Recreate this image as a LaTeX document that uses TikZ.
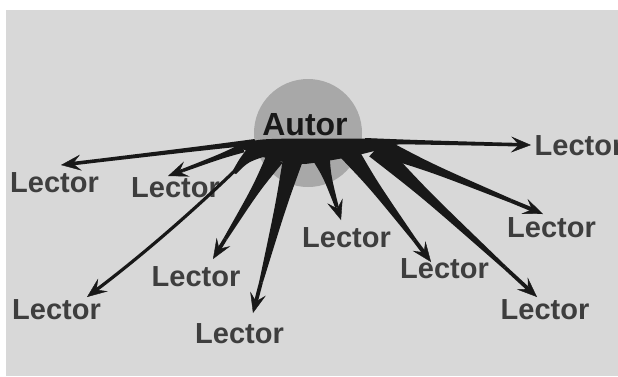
\documentclass[tikz,border=0pt]{standalone}
\usepackage{fontspec}
\setmainfont{Liberation Sans}
\usetikzlibrary{calc,arrows.meta}
\definecolor{bgc}{RGB}{216,216,216}
\definecolor{circc}{RGB}{168,168,168}
\definecolor{ink}{RGB}{24,24,24}
\definecolor{labc}{RGB}{62,62,62}
\tikzset{
  arrowtip/.style={-{Stealth[length=20pt,width=16pt,inset=8pt,line width=0.4pt]}},
  lectorlab/.style={text=labc, font=\bfseries\fontsize{29}{30}\selectfont, inner sep=0pt, anchor=base west},
  autorlab/.style={text=ink, font=\bfseries\fontsize{32}{34}\selectfont, inner sep=0pt, anchor=base},
}
\newcommand\spoke[6]{%
  \coordinate (sm) at ($(#1)!0.3!(#2)$);
  \coordinate (se) at ($(#1)!0.8!(#2)$);
  \fill[ink] ($(#1)!#3!90:(#2)$) .. controls ($(sm)!#4!90:(#2)$) .. ($(se)!#5!90:(#2)$)
     -- ($(se)!#5!-90:(#2)$) .. controls ($(sm)!#4!-90:(#2)$) .. ($(#1)!#3!-90:(#2)$) -- cycle;
  \draw[ink, line width=#6, arrowtip] (se) -- (#2);
}
\begin{document}
\begin{tikzpicture}[x=1pt,y=-1pt]
\useasboundingbox (0,0) rectangle (618,376);
\clip (0,0) rectangle (618,376);
\fill[white] (0,0) rectangle (618,376);
\fill[bgc] (6,10) rectangle (618,376);
% author
\node[circle, fill=circc, minimum size=108pt, inner sep=0pt] (autor) at (308,133) {};
\node[autorlab] (autortxt) at (305,135) {Autor};
% readers
\node[lectorlab] (L1) at (10,192) {Lector};
\node[lectorlab] (L2) at (131,197) {Lector};
\node[lectorlab] (L3) at (534.5,155) {Lector};
\node[lectorlab] (L4) at (507,237) {Lector};
\node[lectorlab] (L5) at (302,247) {Lector};
\node[lectorlab] (L6) at (151.5,286) {Lector};
\node[lectorlab] (L7) at (400,278) {Lector};
\node[lectorlab] (L8) at (12,319) {Lector};
\node[lectorlab] (L9) at (195,343) {Lector};
\node[lectorlab] (L10) at (500.5,319) {Lector};
% spoke bases and tips
\coordinate (b1) at (255,142);  \coordinate (t1) at (61,165);
\coordinate (b2) at (243,148);  \coordinate (t2) at (168,176);
\coordinate (b3) at (365,141);  \coordinate (t3) at (531,145);
\coordinate (b4) at (383,148);  \coordinate (t4) at (543,214);
\coordinate (b5) at (321,157);  \coordinate (t5) at (341,220);
\coordinate (b6) at (275,158);  \coordinate (t6) at (213,259);
\coordinate (b7) at (348,151);  \coordinate (t7) at (431,262);
\coordinate (b8) at (255,151);  \coordinate (t8) at (87,297);
\coordinate (b9) at (293,159);  \coordinate (t9) at (253,313);
\coordinate (b10) at (376,149); \coordinate (t10) at (537,297);
% hub
\fill[ink] (238,147) .. controls (255,139) .. (300,138.5) -- (355,138.5)
   .. controls (385,139) .. (402,143) .. controls (374,152) and (340,160) .. (305,164)
   .. controls (275,163) and (255,155) .. (238,147) -- cycle;
% spokes
\spoke{b1}{t1}{3pt}{2.2pt}{1.8pt}{3.6pt}
\spoke{b2}{t2}{4.5pt}{2.4pt}{1.7pt}{3.4pt}
\spoke{b3}{t3}{3pt}{2.2pt}{1.8pt}{3.6pt}
\spoke{b4}{t4}{9pt}{4pt}{2pt}{4pt}
\spoke{b5}{t5}{9pt}{4pt}{1.8pt}{3.6pt}
\spoke{b6}{t6}{9pt}{4pt}{1.9pt}{3.8pt}
\spoke{b7}{t7}{10pt}{5pt}{2pt}{4pt}
\spoke{b9}{t9}{10pt}{5.5pt}{1.9pt}{3.8pt}
\spoke{b10}{t10}{10pt}{4.5pt}{1.9pt}{3.8pt}
% curved spoke to lower-left reader
\fill[ink] (247,149) .. controls (240,158) .. (232,172) -- (236,174) .. controls (248,162) .. (266,156) -- cycle;
\draw[ink, line width=3.2pt, arrowtip] (b8) .. controls (228,178) and (165,238) .. (t8);
\end{tikzpicture}
\end{document}
